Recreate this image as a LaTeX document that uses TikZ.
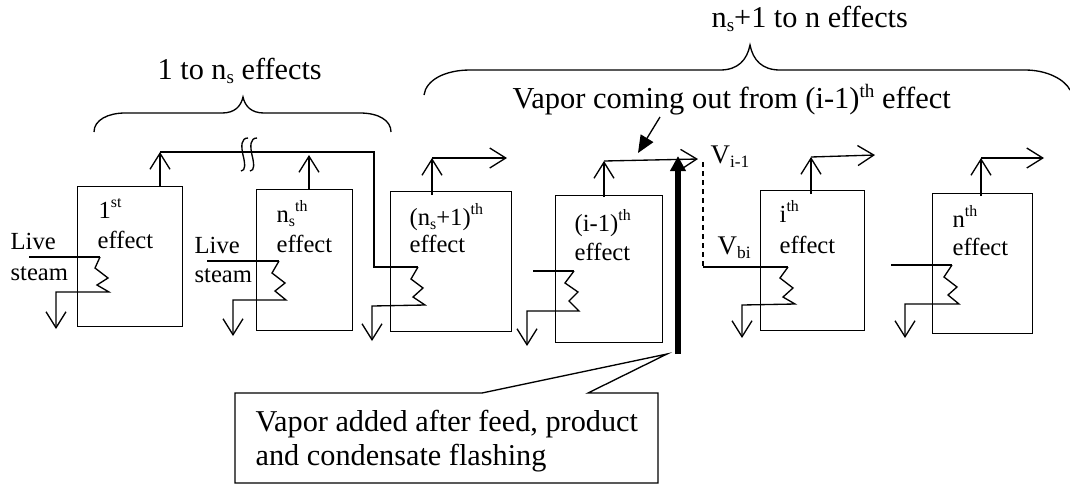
\documentclass[tikz,border=0pt]{standalone}
\usepackage{fontspec}
\setmainfont{Liberation Serif}
\usetikzlibrary{arrows.meta}
\newcommand\up[2][11.9]{\raisebox{8.25pt}{\fontsize{#1}{#1}\selectfont #2}}
\newcommand\dn[2][11.9]{\raisebox{-3pt}{\fontsize{#1}{#1}\selectfont #2}}
\tikzset{
  every path/.style={line width=1pt,line join=miter},
  openarrow/.style={-{Straight Barb[length=12pt,width=15pt,line width=1pt]}},
  effectbox/.style={draw,inner sep=0pt,anchor=north west},
  lab/.style={anchor=base west,inner sep=0pt,font=\fontsize{18.45}{18.45}\selectfont},
  biglab/.style={anchor=base west,inner sep=0pt,font=\fontsize{22.7}{22.7}\selectfont},
  titlelab/.style={anchor=base west,inner sep=0pt,font=\fontsize{22.85}{22.85}\selectfont},
  vlab/.style={anchor=base west,inner sep=0pt,font=\fontsize{20.2}{20.2}\selectfont},
  bigarrow/.style={line width=4.5pt,-{Triangle[length=11.25pt,width=11.25pt]}},
  ptr/.style={line width=1pt,-{Triangle[length=13pt,width=11pt]}},
}
\begin{document}
\begin{tikzpicture}[x=0.75pt,y=-0.75pt]
\useasboundingbox (0,0) rectangle (1070,487);
% boxes
\node[effectbox,minimum width=78.75pt,minimum height=105pt] (b1) at (77,186) {};
\node[effectbox,minimum width=72pt,minimum height=105.75pt] (b2) at (256,189) {};
\node[effectbox,minimum width=90.75pt,minimum height=105pt] (b3) at (390,191) {};
\node[effectbox,minimum width=80.25pt,minimum height=110.25pt] (b4) at (555,195) {};
\node[effectbox,minimum width=78pt,minimum height=105pt] (b5) at (760,190) {};
\node[effectbox,minimum width=75pt,minimum height=105pt] (b6) at (932,193) {};
% labels
\node[lab] (t1a) at (98,218) {1\up{st}};
\node[lab] (t1b) at (97,248) {effect};
\node[lab] (l1a) at (10,249) {Live};
\node[lab] (l1b) at (10,280) {steam};
\node[lab] (t2a) at (276,222) {n\dn{s}\up{th}};
\node[lab] (t2b) at (276,252) {effect};
\node[lab] (l2a) at (194,253) {Live};
\node[lab] (l2b) at (194,282) {steam};
\node[lab] (t3a) at (409,225) {(n\dn{s}+1)\up{th}};
\node[lab] (t3b) at (409,252) {effect};
\node[lab] (t4a) at (574,231) {(i-1)\up{th}};
\node[lab] (t4b) at (574,260) {effect};
\node[lab] (t5a) at (779,222) {i\up{th}};
\node[lab] (t5b) at (779,253) {effect};
\node[lab] (t6a) at (952,227) {n\up{th}};
\node[lab] (t6b) at (952,255) {effect};
\node[vlab] (vi) at (710,163) {V\dn[13]{i-1}};
\node[vlab] (vb) at (717,254) {V\dn[13]{bi}};
\node[biglab] (tt1) at (157,79) {1 to n\dn[14.3]{s} effects};
\node[biglab] (tt2) at (711,27) {n\dn[14.3]{s}+1 to n effects};
\node[titlelab] (tv) at (512,108) {Vapor coming out from (i-1)\up[14.3]{th} effect};
\node[biglab] (ca) at (255,431) {Vapor added after feed, product};
\node[biglab] (cb) at (255,465) {and condensate flashing};
% junction coordinates
\coordinate (o1) at (160,186); \coordinate (c1) at (160,152);
\coordinate (o2) at (309,189); \coordinate (c2) at (309,155);
\coordinate (h1) at (374,152); \coordinate (h2) at (374,267); \coordinate (s3) at (418,267);
\coordinate (o3) at (432,195); \coordinate (c3) at (432,158); \coordinate (e3) at (507,158);
\coordinate (o4) at (604,197); \coordinate (c4) at (604,161); \coordinate (e4) at (698,159);
\coordinate (o5) at (811,194); \coordinate (c5) at (811,157); \coordinate (e5) at (875,155);
\coordinate (o6) at (981,196); \coordinate (c6) at (981,158); \coordinate (e6) at (1044,158);
\coordinate (d1) at (703,162); \coordinate (d2) at (703,267); \coordinate (s5) at (788,267);
\coordinate (in1) at (29,257); \coordinate (s1) at (100,257);
\coordinate (in2) at (207,261); \coordinate (s2) at (279,261);
\coordinate (in4) at (533,271); \coordinate (s4) at (574,271);
\coordinate (in6) at (891,265); \coordinate (s6) at (952,265);
\coordinate (tb) at (678,354); \coordinate (tt) at (678,156);
\coordinate (p1) at (660,117); \coordinate (p2) at (638,153);
% vapour lines
\draw[openarrow] (o1) -- (c1);
\draw (c1) -- (h1) -- (h2) -- (s3);
\draw[openarrow] (o2) -- (c2);
\draw[openarrow] (o3) -- (c3); \draw[openarrow] (c3) -- (e3);
\draw[openarrow] (o4) -- (c4); \draw[openarrow] (c4) -- (e4);
\draw[openarrow] (o5) -- (c5); \draw[openarrow] (c5) -- (e5);
\draw[openarrow] (o6) -- (c6); \draw[openarrow] (c6) -- (e6);
\draw[dash pattern=on 3.75pt off 3pt] (d1) -- (d2);
\draw (d2) -- (s5);
% coils with condensate
\draw (in1) -- (s1);
\draw[openarrow] (s1) -- (95,268) -- (108,278) -- (97,285) -- (109,292) -- (56,292) -- (56,329);
\draw (in2) -- (s2);
\draw[openarrow] (s2) -- (272,273) -- (285,283) -- (275,291) -- (286,300) -- (233,300) -- (233,336);
\draw[openarrow] (s3) -- (411,279) -- (423,288) -- (413,297) -- (425,305) -- (372,306) -- (372,341);
\draw (in4) -- (s4);
\draw[openarrow] (s4) -- (565,283) -- (578,292) -- (569,301) -- (579,311) -- (527,311) -- (527,346);
\draw[openarrow] (s5) -- (780,278) -- (793,288) -- (783,297) -- (795,304) -- (742,305) -- (742,338);
\draw (in6) -- (s6);
\draw[openarrow] (s6) -- (944,277) -- (957,287) -- (948,295) -- (959,304) -- (905,304) -- (905,338);
% break marks
\draw (248,138) .. controls (241,138) and (241,146) .. (243,155) .. controls (245,163) and (246,171) .. (241,171);
\draw (257,138) .. controls (250,138) and (250,146) .. (252,155) .. controls (254,163) and (255,171) .. (250,171);
% braces
\draw (94,132) .. controls (94,120) and (108,113) .. (125,113) -- (222,113) .. controls (235,113) and (241,106) .. (243,97) .. controls (245,106) and (251,113) .. (264,113) -- (360,113) .. controls (378,113) and (391,120) .. (391,132);
\draw (424,95) .. controls (426,80) and (445,70) .. (470,70) -- (720,70) .. controls (738,70) and (747,60) .. (750,45) .. controls (753,60) and (762,70) .. (780,70) -- (1025,70) .. controls (1048,70) and (1065,80) .. (1070,90);
% thick arrow and pointer
\draw[bigarrow] (tb) -- (tt);
\draw[ptr] (p1) -- (p2);
% callout
\draw (235,393) -- (482,393) -- (667,354) -- (588,393) -- (658,393) -- (658,483) -- (235,483) -- cycle;
\end{tikzpicture}
\end{document}
